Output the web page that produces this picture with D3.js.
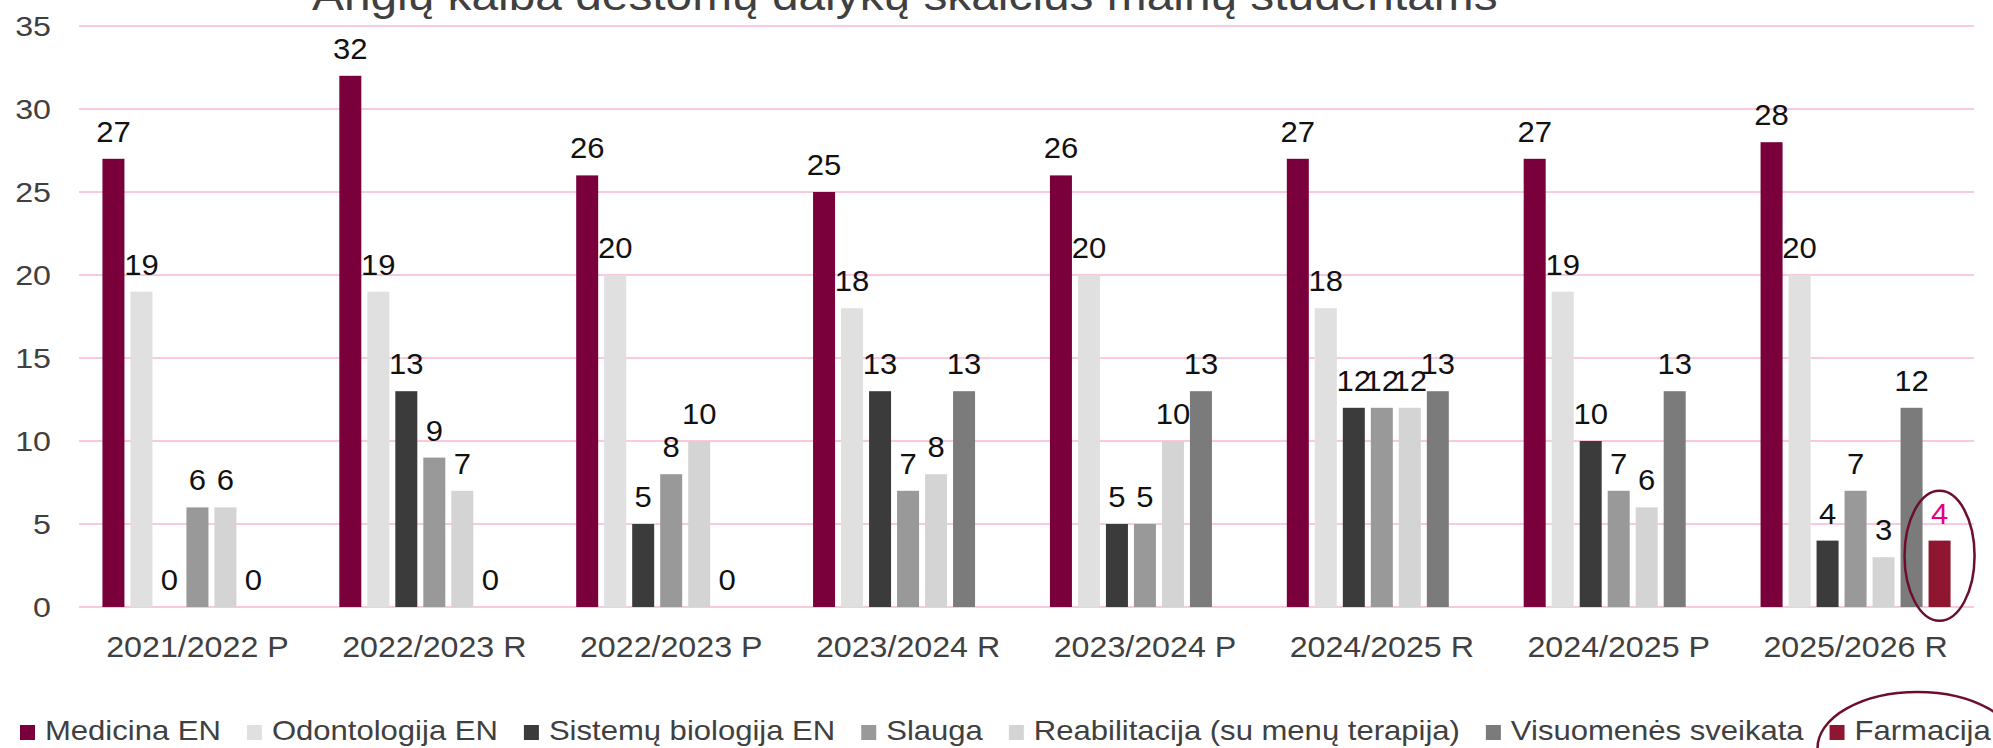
<!DOCTYPE html>
<html>
<head>
<meta charset="utf-8">
<script src="https://cdn.jsdelivr.net/npm/d3@7"></script>
<style>
  body { margin: 0; background: #fff; }
  svg { display: block; font-family: "Liberation Sans", Arial, sans-serif; }
</style>
</head>
<body>
<div id="chart"></div>
<script>
// data
const title = 'Anglų kalba dėstomų dalykų skaičius mainų studentams';
const years = ['2021/2022 P', '2022/2023 R', '2022/2023 P', '2023/2024 R', '2023/2024 P', '2024/2025 R', '2024/2025 P', '2025/2026 R'];
const seriesNames = ['Medicina EN', 'Odontologija EN', 'Sistemų biologija EN', 'Slauga', 'Reabilitacija (su menų terapija)', 'Visuomenės sveikata', 'Farmacija'];
const medicina = [27, 32, 26, 25, 26, 27, 27, 28];
const odontologija = [19, 19, 20, 18, 20, 18, 19, 20];
const sistemu = [0, 13, 5, 13, 5, 12, 10, 4];
const slauga = [6, 9, 8, 7, 5, 12, 7, 7];
const reabilitacija = [6, 7, 10, 8, 10, 12, 6, 3];
const visuomenes = [0, 0, 0, 13, 13, 13, 13, 12];
const farmacija = [null, null, null, null, null, null, null, 4];
const yTicks = [0, 5, 10, 15, 20, 25, 30, 35];

const seriesValues = [medicina, odontologija, sistemu, slauga, reabilitacija, visuomenes, farmacija];
const colors = ['#7a003c', '#e0e0e0', '#3b3b3b', '#999999', '#d4d4d4', '#7b7b7b', '#8e1631'];

const W = 1993, H = 748;
const SX = 1.15; // text in the picture is drawn a bit wider than the font

const svg = d3.select('#chart').append('svg')
  .attr('width', W)
  .attr('height', H);

// helper: text placed with a horizontal stretch
const place = (x, y, sx = SX) => `translate(${x},${y}) scale(${sx},1)`;

/* scales */
const x0 = d3.scaleBand().domain(years).range([79, 1974]);
const bw = x0.bandwidth();
const x1 = d3.scaleBand().domain(seriesNames)
  .range([(bw - 190) / 2, (bw + 190) / 2])
  .paddingInner(6 / 28);
const y = d3.scaleLinear().domain([0, 35]).range([607, 26]);

/* gridlines */
svg.append('g')
  .selectAll('line')
  .data(yTicks)
  .join('line')
  .attr('x1', 79)
  .attr('x2', 1974)
  .attr('y1', d => y(d))
  .attr('y2', d => y(d))
  .attr('stroke', '#fcc8df')
  .attr('stroke-width', 2);

/* y tick labels */
svg.append('g')
  .selectAll('text')
  .data(yTicks)
  .join('text')
  .attr('transform', d => place(51, y(d)))
  .attr('dy', '0.36em')
  .attr('text-anchor', 'end')
  .attr('font-size', 28)
  .attr('fill', '#404040')
  .text(d => d);

/* title */
svg.append('text')
  .attr('transform', place(312, 10))
  .attr('font-size', 41.6)
  .attr('fill', '#404040')
  .text(title);

/* bars */
const rows = [];
seriesNames.forEach((s, si) => {
  years.forEach((yr, yi) => {
    rows.push({ series: s, year: yr, value: seriesValues[si][yi], color: colors[si] });
  });
});

svg.append('g')
  .selectAll('rect')
  .data(rows.filter(d => d.value))
  .join('rect')
  .attr('x', d => x0(d.year) + x1(d.series))
  .attr('y', d => y(d.value))
  .attr('width', x1.bandwidth())
  .attr('height', d => y(0) - y(d.value))
  .attr('fill', d => d.color);

/* value labels */
svg.append('g')
  .selectAll('text')
  .data(rows.filter(d => d.value !== null))
  .join('text')
  .attr('transform', d => place(x0(d.year) + x1(d.series) + x1.bandwidth() / 2, y(d.value) - 17, 1.07))
  .attr('text-anchor', 'middle')
  .attr('font-size', 29)
  .attr('fill', d => d.series === 'Farmacija' ? '#e5007d' : '#111')
  .text(d => d.value);

/* x labels */
svg.append('g')
  .selectAll('text')
  .data(years)
  .join('text')
  .attr('transform', d => place(x0(d) + bw / 2, 657, 1.11))
  .attr('text-anchor', 'middle')
  .attr('font-size', 29)
  .attr('fill', '#404040')
  .text(d => d);

/* legend */
const legend = svg.append('g');
let lx = 20;
const legendPos = [];
seriesNames.forEach((s, i) => {
  const g = legend.append('g');
  g.append('rect')
    .attr('x', lx)
    .attr('y', 725)
    .attr('width', 15)
    .attr('height', 15)
    .attr('fill', colors[i]);
  const t = g.append('text')
    .attr('transform', place(lx + 25, 740))
    .attr('font-size', 27)
    .attr('fill', '#404040')
    .text(s);
  const tw = t.node().getComputedTextLength() * SX;
  legendPos.push({ x: lx, w: 25 + tw });
  lx += 25 + tw + 26;
});

/* ellipses highlighting Farmacija */
const last = years[years.length - 1];
const fx = x0(last) + x1('Farmacija') + x1.bandwidth() / 2;
svg.append('ellipse')
  .attr('cx', fx)
  .attr('cy', (y(farmacija[7]) + y(0)) / 2 - 18)
  .attr('rx', 35)
  .attr('ry', 65)
  .attr('fill', 'none')
  .attr('stroke', '#6b0f2a')
  .attr('stroke-width', 2.5);

const lf = legendPos[legendPos.length - 1];
svg.append('ellipse')
  .attr('cx', lf.x + 88)
  .attr('cy', 748)
  .attr('rx', 100)
  .attr('ry', 56)
  .attr('fill', 'none')
  .attr('stroke', '#6b0f2a')
  .attr('stroke-width', 2.5);
</script>
</body>
</html>
